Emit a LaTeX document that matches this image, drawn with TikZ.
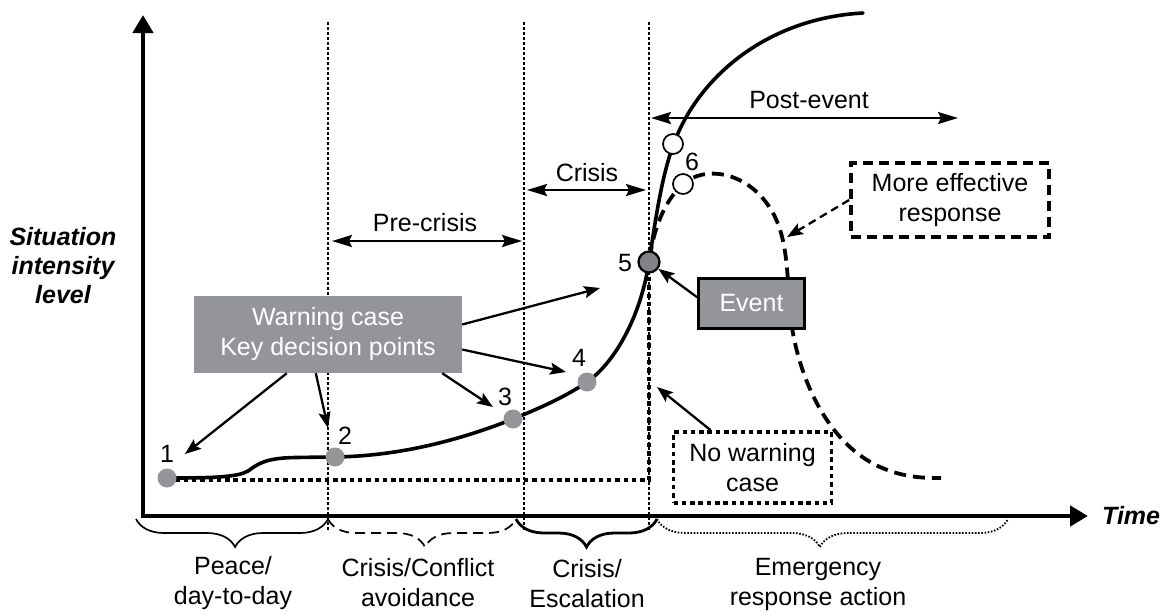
\documentclass[tikz,border=0pt]{standalone}
\usepackage{fontspec}
\setmainfont{Liberation Sans}
\usetikzlibrary{arrows.meta,decorations.pathreplacing,calc}

\definecolor{ptgray}{HTML}{939598}
\definecolor{evgray}{HTML}{808285}

\begin{document}
\begin{tikzpicture}[x=1pt,y=-1pt,
  txt/.style={font=\fontsize{25}{30}\selectfont, inner sep=0pt, align=center},
  axtxt/.style={font=\fontsize{25}{29}\selectfont\bfseries\itshape, inner sep=0pt, align=center},
  axisline/.style={line width=4.5pt, -{Triangle[length=18pt,width=20pt]}},
  phaseline/.style={line width=1.5pt, dash pattern=on 3pt off 2pt},
  curve/.style={line width=3.6pt, line cap=round},
  effcurve/.style={line width=3.8pt, dash pattern=on 12pt off 7pt},
  nowarn/.style={line width=4.5pt, dash pattern=on 4.5pt off 3.8pt},
  span/.style={line width=2.3pt, {Stealth[length=20pt,width=12pt,inset=3pt]}-{Stealth[length=20pt,width=12pt,inset=3pt]}},
  ptr/.style={line width=2.3pt, -{Stealth[length=16pt,width=12pt,inset=3pt]}},
  kdp/.style={circle, fill=ptgray, minimum size=19pt, inner sep=0pt},
  evdot/.style={circle, draw=black, line width=2.2pt, fill=evgray, minimum size=21pt, inner sep=0pt},
  opendot/.style={circle, draw=black, line width=1.7pt, fill=white, minimum size=20pt, inner sep=0pt},
  graybox/.style={fill=ptgray, text=white, inner sep=0pt, align=center, font=\fontsize{25}{30}\selectfont},
  phasebrace/.style={decorate, decoration={brace, mirror, amplitude=28pt, aspect=#1}},
]
\useasboundingbox (0,0) rectangle (1166,614);

% phase boundaries
\draw[phaseline] (328,22) -- (328,530);
\draw[phaseline] (524,22) -- (524,530);
\draw[phaseline] (649,22) -- (649,530);

% phase spans
\coordinate (preL) at (332,241); \coordinate (preR) at (522,241);
\coordinate (criL) at (527,190); \coordinate (criR) at (646,190);
\coordinate (posL) at (651,118); \coordinate (posR) at (958,118);
\draw[span] (preL) -- (preR);
\draw[span] (criL) -- (criR);
\draw[span] (posL) -- (posR);
\node[txt] at (425,223) {Pre-crisis};
\node[txt] at (587,173) {Crisis};
\node[txt] at (809,100) {Post-event};

% axes
\draw[axisline] (143,516) -- (143,15);
\draw[axisline] (141,516) -- (1088,516);
\node[axtxt] at (63,266) {Situation\\intensity\\level};
\node[axtxt, anchor=west] at (1102,516) {Time};

% phase braces
\draw[phasebrace=0.516, line width=1.7pt] (136,519) -- (328,519);
\draw[phasebrace=0.516, line width=1.7pt, dash pattern=on 10pt off 6pt] (328,519) -- (516,519);
\draw[phasebrace=0.5, line width=2.8pt] (516,519) -- (657,519);
\draw[phasebrace=0.464, line width=1.8pt, dash pattern=on 1.6pt off 1.6pt] (657,519) -- (1008,519);
\node[txt] at (233,583) {Peace/\\day-to-day};
\node[txt] at (418,583) {Crisis/Conflict\\avoidance};
\node[txt] at (587,584) {Crisis/\\Escalation};
\node[txt] at (818,584) {Emergency\\response action};

% no warning case path
\draw[nowarn] (167,480) -- (649,480) -- (649,270);

% more effective response path
\draw[effcurve] (650,258) .. controls (653,230) and (665,200) .. (683,184)
  .. controls (705,165) and (745,172) .. (768,205)
  .. controls (785,229) and (787,260) .. (789,300)
  .. controls (792,360) and (820,440) .. (880,467)
  .. controls (905,478) and (925,478) .. (941,478);

% warning case intensity curve
\draw[curve] (167,478) .. controls (215,478) and (238,477) .. (248,471)
  .. controls (258,464) and (265,458) .. (295,457.5)
  .. controls (315,457.2) and (325,457) .. (335,457)
  .. controls (400,456) and (460,440) .. (513,419)
  .. controls (540,408) and (565,397) .. (587,382)
  .. controls (613,364) and (640,320) .. (649,262)
  .. controls (656,216) and (662,175) .. (674,143)
  .. controls (700,74) and (770,18) .. (863,13);

% decision points
\node[kdp] (p1) at (167,478) {};
\node[kdp] (p2) at (335,457) {};
\node[kdp] (p3) at (513,419) {};
\node[kdp] (p4) at (587,382) {};
\node[evdot] (p5) at (649,262) {};
\node[opendot] (p6a) at (673,144) {};
\node[opendot] (p6b) at (683,184) {};
\node[txt] at (167,454) {1};
\node[txt] at (345,436) {2};
\node[txt] at (505,397) {3};
\node[txt] at (579,358) {4};
\node[txt] at (625,263) {5};
\node[txt] at (692,162) {6};

% callout boxes
\node[graybox, minimum width=268pt, minimum height=77pt] (wbox) at (328,334.5)
  {Warning case\\Key decision points};
\node[graybox, draw=black, line width=2.5pt, minimum width=106pt, minimum height=50pt] (ev) at (751.5,303.3) {Event};
\node[txt, draw=black, line width=3.8pt, dash pattern=on 4.5pt off 3.8pt,
  minimum width=158pt, minimum height=71pt] (nw) at (752.5,467.5) {No warning\\case};
\node[txt, draw=black, line width=3.8pt, dash pattern=on 10pt off 6pt,
  minimum width=198pt, minimum height=74pt] (me) at (950,200) {More effective\\response};

% pointers
\coordinate (t1) at (185,454);
\coordinate (t2) at (328,428);
\coordinate (t3) at (493,407);
\coordinate (t4) at (566,372);
\coordinate (t5) at (600,288);
\coordinate (tnw) at (657,387);
\coordinate (tme) at (787,237);
\draw[ptr] ([xshift=93pt]wbox.south west) -- (t1);
\draw[ptr] ([xshift=122pt]wbox.south west) -- (t2);
\draw[ptr] ([xshift=-20pt]wbox.south east) -- (t3);
\draw[ptr] ([yshift=-15pt]wbox.east) -- (t4);
\draw[ptr] ([yshift=10pt]wbox.east) -- (t5);
\draw[ptr] ([yshift=6pt]ev.west) -- (p5);
\draw[ptr] ([xshift=-42pt]nw.north) -- (tnw);
\draw[ptr, dash pattern=on 8pt off 5pt] (me.west) -- (tme);
\end{tikzpicture}
\end{document}
